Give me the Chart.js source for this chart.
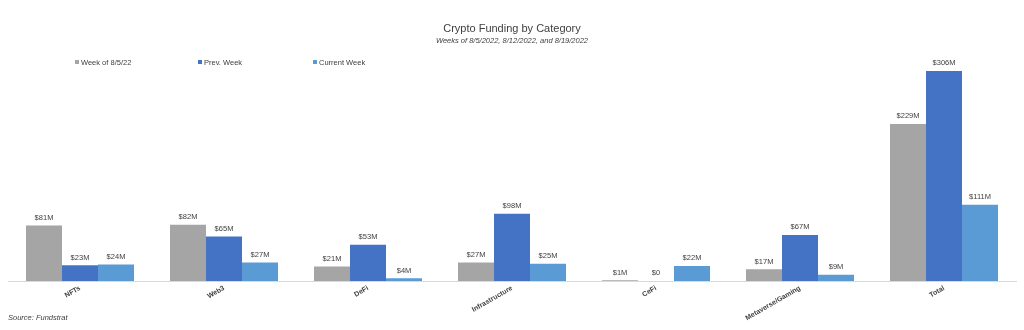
<!DOCTYPE html>
<html lang="en">
<head>
  <meta charset="UTF-8" />
  <title>Crypto Funding by Category</title>
  <script src="https://cdn.jsdelivr.net/npm/chart.js"></script>
  <style>
    html, body { margin: 0; padding: 0; background: #fff; }
    #wrap { position: relative; width: 1024px; height: 330px; font-family: "Liberation Sans", Arial, sans-serif; }
    canvas { display: block; }
    .legend { position: absolute; top: 58px; font-size: 7.5px; color: #404040; white-space: nowrap; }
    .legend span.box { display: inline-block; width: 4px; height: 4px; margin-right: 2px; vertical-align: 1px; }
    #source { position: absolute; left: 8px; top: 313px; font-size: 7.5px; font-style: italic; color: #404040; }
  </style>
</head>
<body>
  <div id="wrap">
    <canvas id="chart" width="1024" height="330"></canvas>
    <div id="legend"></div>
    <div id="source">Source: Fundstrat</div>
  </div>

  <script>
    const categories = ['NFTs', 'Web3', 'DeFi', 'Infrastructure', 'CeFi', 'Metaverse/Gaming', 'Total'];
    const seriesNames = ['Week of 8/5/22', 'Prev. Week', 'Current Week'];
    const week0805 = [81, 82, 21, 27, 1, 17, 229];
    const prevWeek = [23, 65, 53, 98, 0, 67, 306];
    const currentWeek = [24, 27, 4, 25, 22, 9, 111];
    const colors = ['#A5A5A5', '#4472C4', '#5B9BD5'];
    const legendX = [75, 198, 313];

    // legend drawn as html so the items sit where the original has them
    const legendEl = document.getElementById('legend');
    seriesNames.forEach((name, i) => {
      const d = document.createElement('div');
      d.className = 'legend';
      d.style.left = legendX[i] + 'px';
      d.innerHTML = '<span class="box" style="background:' + colors[i] + '"></span>' + name;
      legendEl.appendChild(d);
    });

    // value labels above each bar
    const barLabels = {
      id: 'barLabels',
      afterDatasetsDraw(chart) {
        const ctx = chart.ctx;
        ctx.save();
        ctx.font = '7.5px "Liberation Sans", Arial, sans-serif';
        ctx.fillStyle = '#404040';
        ctx.textAlign = 'center';
        ctx.textBaseline = 'bottom';
        chart.data.datasets.forEach((ds, i) => {
          chart.getDatasetMeta(i).data.forEach((bar, j) => {
            const v = ds.data[j];
            const txt = v === 0 ? '$0' : '$' + v + 'M';
            ctx.fillText(txt, bar.x, bar.y - 4);
          });
        });
        ctx.restore();
      }
    };

    new Chart(document.getElementById('chart').getContext('2d'), {
      type: 'bar',
      data: {
        labels: categories,
        datasets: [
          { label: seriesNames[0], data: week0805, backgroundColor: colors[0] },
          { label: seriesNames[1], data: prevWeek, backgroundColor: colors[1] },
          { label: seriesNames[2], data: currentWeek, backgroundColor: colors[2] }
        ]
      },
      options: {
        responsive: false,
        animation: false,
        layout: { padding: { left: 8, right: 8, top: 22, bottom: 0 } },
        datasets: { bar: { categoryPercentage: 0.75, barPercentage: 1.0 } },
        plugins: {
          legend: { display: false },
          tooltip: { enabled: false },
          title: {
            display: true,
            text: 'Crypto Funding by Category',
            color: '#404040',
            font: { family: '"Liberation Sans", Arial, sans-serif', size: 11, weight: 'normal' },
            padding: { top: 0, bottom: 1 }
          },
          subtitle: {
            display: true,
            text: 'Weeks of 8/5/2022, 8/12/2022, and 8/19/2022',
            color: '#404040',
            font: { family: '"Liberation Sans", Arial, sans-serif', size: 7.5, style: 'italic' },
            padding: { top: 0, bottom: 6 }
          }
        },
        scales: {
          x: {
            grid: { display: false, drawTicks: false },
            border: { display: true, color: '#D9D9D9', width: 1 },
            ticks: {
              color: '#404040',
              font: { family: '"Liberation Sans", Arial, sans-serif', size: 7, weight: 'bold' },
              maxRotation: 30,
              minRotation: 30,
              padding: 3
            },
            afterFit(scale) { scale.height = 49; }
          },
          y: {
            display: false,
            min: 0,
            max: 335
          }
        }
      },
      plugins: [barLabels]
    });
  </script>
</body>
</html>
